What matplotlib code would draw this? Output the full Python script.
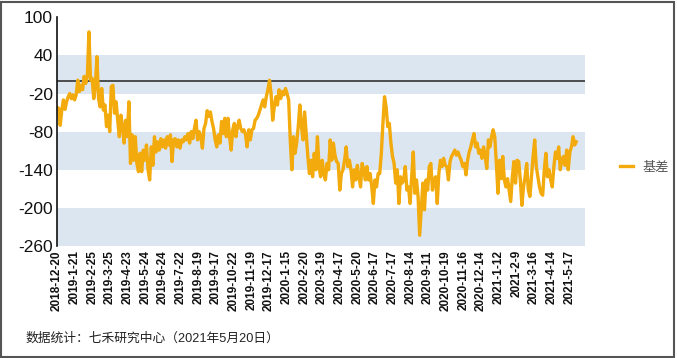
import matplotlib
matplotlib.use('Agg')
import matplotlib.pyplot as plt
import numpy as np
from matplotlib.patches import Rectangle

plt.rcParams['font.family'] = ['Liberation Sans', 'Noto Sans CJK SC', 'DejaVu Sans']

# tick labels (one every 20 trading days)
date_labels = [
    '2018-12-20', '2019-1-21', '2019-2-25', '2019-3-25', '2019-4-23', '2019-5-24',
    '2019-6-24', '2019-7-22', '2019-8-19', '2019-9-17', '2019-10-22', '2019-11-19',
    '2019-12-17', '2020-1-15', '2020-2-20', '2020-3-19', '2020-4-17', '2020-5-20',
    '2020-6-17', '2020-7-17', '2020-8-14', '2020-9-11', '2020-10-19', '2020-11-16',
    '2020-12-14', '2021-1-12', '2021-2-9', '2021-3-16', '2021-4-14', '2021-5-17',
]
n_days = 589

# basis values, in time order
basis = [
    -42, -43, -70, -46, -30, -45, -33, -25, -20, -28, -22, -30, -22, 1, -17, -7, -14, 7, -4, 9,
    77, 1, 4, -28, -7, 38, -28, -41, -12, -46, -38, -72, -54, -80, -9, -7, -51, -33, -62, -88,
    -54, -72, -98, -62, -88, -33, -130, -85, -125, -88, -130, -143, -114,
    -143, -109, -125, -101, -140, -156, -104, -133, -88, -112, -96, -109, -91, -104, -93, -106,
    -88, -101, -85, -127, -93, -91, -104, -93, -106, -93, -96, -88, -93, -83, -98, -80, -91, -75,
    -62, -93, -80, -88, -106, -75, -67, -47, -56, -49, -64, -75, -93, -104, -85, -98, -64, -83,
    -59, -88,
    -59, -88, -109, -77, -67, -88, -72, -62, -75, -80, -77, -85, -104, -77, -93, -77, -75, -62,
    -59, -54, -46, -38, -30, -41, -25, -14, 1, -20, -62, -41, -25, -38, -14, -28, -17, -22, -12,
    -20, -30, -93, -140, -88, -114, -98, -72, -38, -72, -93, -49, -83, -119, -146, -125, -151,
    -114,
    -140, -88, -135, -151, -125, -146, -156, -130, -140, -93, -125, -98, -117, -127, -130, -172,
    -146, -140, -125, -104, -135, -125, -140, -167, -140, -156, -133, -151, -167, -130, -140,
    -156, -135, -156, -146, -167, -193, -156, -167, -146, -146, -114, -67, -25, -41, -72, -67,
    -98, -119, -130, -161, -140, -193, -151, -161, -156, -135,
    -172, -167, -193, -151, -112, -177, -156, -182, -243, -203, -161, -203, -156, -172, -135,
    -130, -172, -156, -151, -193, -146, -125, -135, -122, -133, -135, -156, -127, -119, -114,
    -109, -117, -112, -119, -125, -135, -130, -148, -125, -112, -104, -93, -83, -104, -98, -114,
    -109, -122, -104, -119, -138, -93, -104, -88, -77,
    -88, -130, -177, -125, -154, -119, -156, -167, -154, -172, -190, -151, -127, -161, -125,
    -127, -156, -196, -167, -151, -130, -172, -182, -151, -119, -93, -135, -151, -167, -177,
    -180, -140, -114, -151, -140, -156, -167, -135, -112, -122, -104, -140, -125, -119, -133,
    -109, -140, -112, -104, -88, -101, -96,
]

y_ticks = [100, 40, -20, -80, -140, -200, -260]
bands = [(-20, 40), (-140, -80), (-260, -200)]

fig = plt.figure(figsize=(6.77, 3.58), dpi=100)
ax = fig.add_axes([0.0842, 0.3128, 0.7800, 0.6389])

for lo, hi in bands:
    ax.axhspan(lo, hi, color='#dce6f1', lw=0, zorder=0)
ax.axhline(0, color='#333333', lw=1.2, zorder=1)

x = np.linspace(0, n_days - 1, len(basis))
line, = ax.plot(x, basis, color='#f2aa0c', lw=2.4, zorder=2, label='基差')

ax.set_ylim(-260, 100)
ax.set_yticks(y_ticks)
ax.set_yticklabels([str(v) for v in y_ticks], fontsize=12.5, color='#111111')
ax.set_xlim(0, 598)
ax.set_xticks(np.arange(len(date_labels)) * 20)
ax.set_xticklabels(date_labels, rotation=90, fontsize=8.5, fontweight='bold', color='#111111')
ax.tick_params(axis='both', length=0, pad=3)

for s in ['top', 'right', 'bottom']:
    ax.spines[s].set_visible(False)
ax.spines['left'].set_color('#111111')
ax.spines['left'].set_linewidth(1.2)

fig.legend(handles=[line], loc='center left', bbox_to_anchor=(0.898, 0.531), frameon=False,
           fontsize=9.5, handlelength=1.0, handletextpad=0.7, labelcolor='#555555')

fig.text(0.037, 0.055, '数据统计：七禾研究中心（2021年5月20日）', fontsize=9.2, color='#222222',
         va='center', ha='left')

fig.patches.append(Rectangle((0.002, 0.003), 0.994, 0.991, transform=fig.transFigure,
                             fill=False, edgecolor='#555555', lw=1.5))

fig.savefig('out.png', dpi=100)
